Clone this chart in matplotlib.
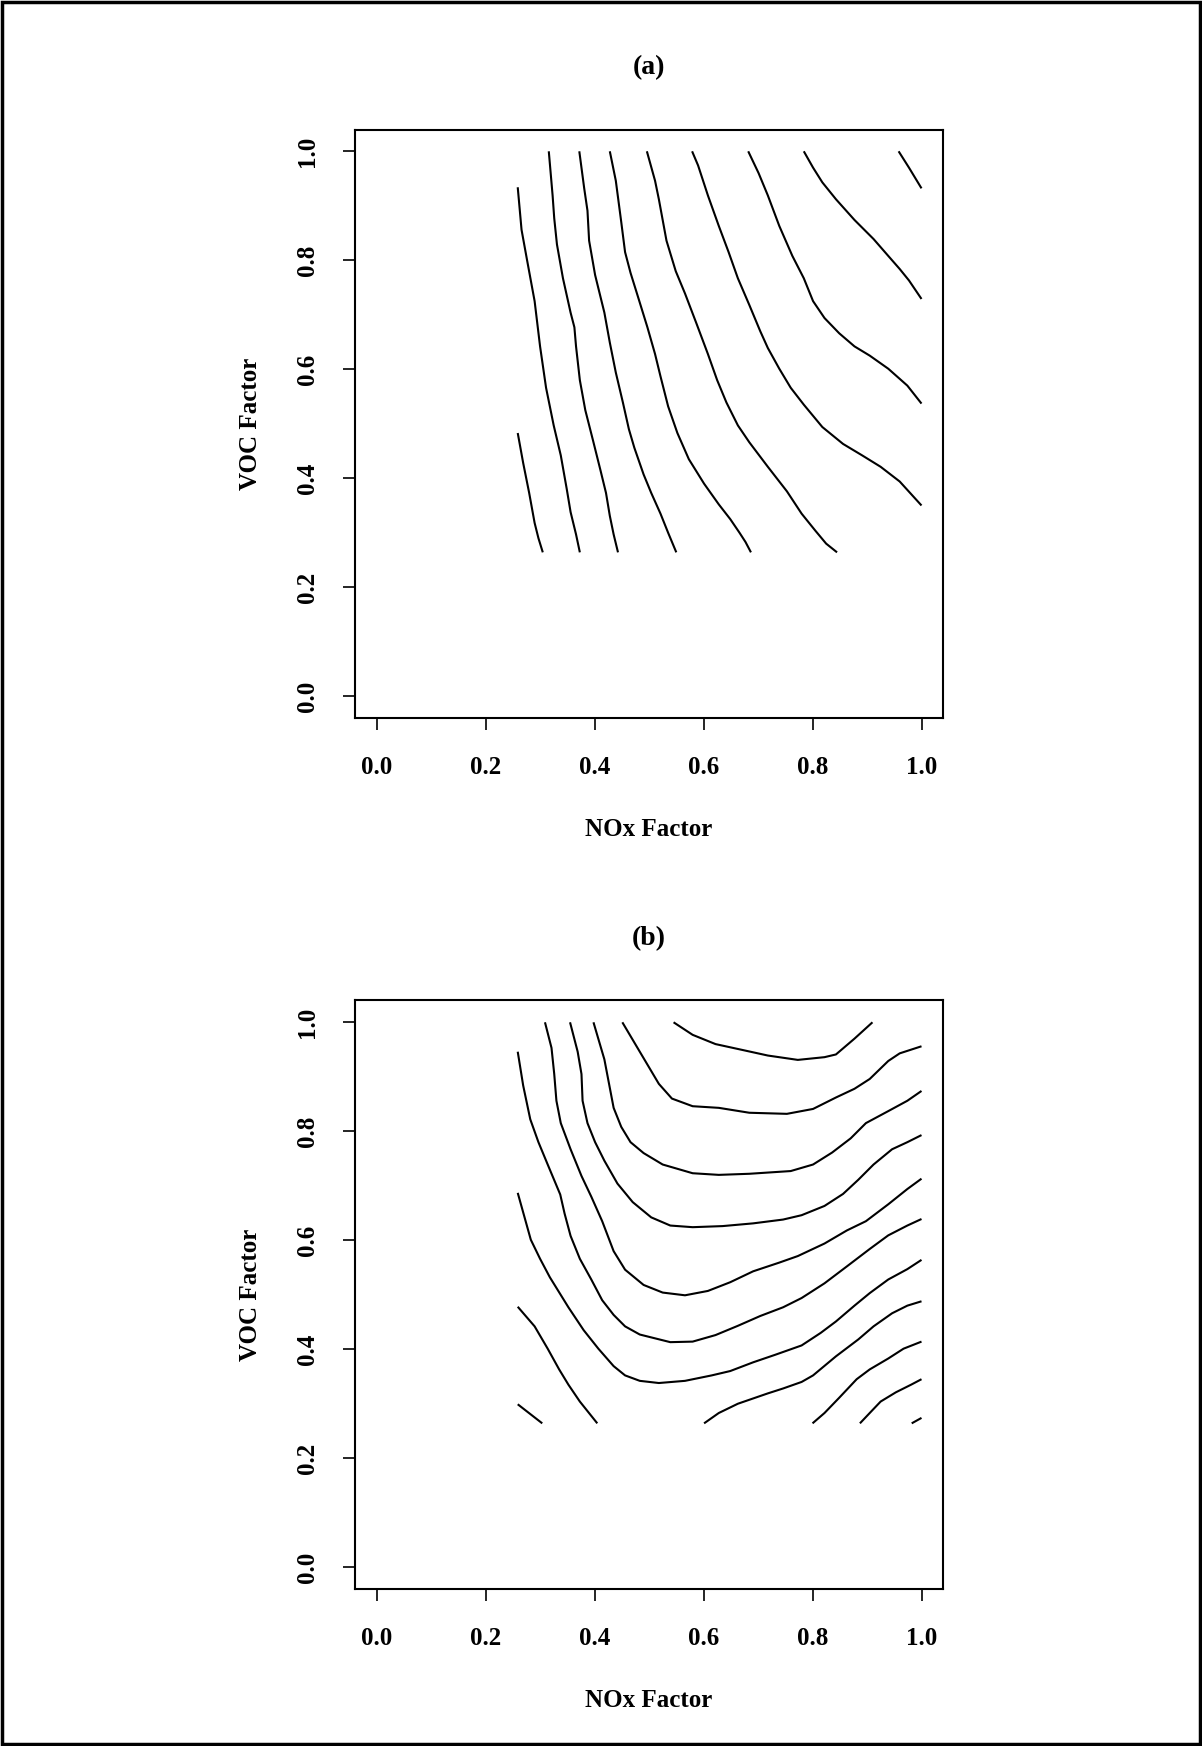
import matplotlib
matplotlib.use("Agg")
import matplotlib.pyplot as plt
from matplotlib.patches import Rectangle

# ---------------- data ----------------
tick_values = [0.0, 0.2, 0.4, 0.6, 0.8, 1.0]
tick_labels = ["0.0", "0.2", "0.4", "0.6", "0.8", "1.0"]
x_label = "NOx Factor"
y_label = "VOC Factor"
titles = ["(a)", "(b)"]

# Panel (a) contour lines
a1_x = [0.259, 0.266, 0.276, 0.290, 0.300, 0.311, 0.325, 0.338, 0.349, 0.356, 0.366, 0.373]
a1_y = [0.934, 0.856, 0.801, 0.725, 0.642, 0.566, 0.497, 0.442, 0.380, 0.338, 0.297, 0.264]
a2_x = [0.259, 0.269, 0.280, 0.290, 0.297, 0.305]
a2_y = [0.483, 0.428, 0.373, 0.318, 0.290, 0.264]
a3_x = [0.316, 0.323, 0.326, 0.331, 0.342, 0.356, 0.363, 0.366, 0.373, 0.383, 0.397, 0.411, 0.421, 0.428, 0.435, 0.443]
a3_y = [1.000, 0.919, 0.877, 0.829, 0.767, 0.704, 0.677, 0.642, 0.580, 0.525, 0.470, 0.414, 0.373, 0.331, 0.297, 0.264]
a4_x = [0.372, 0.381, 0.387, 0.390, 0.401, 0.418, 0.428, 0.439, 0.452, 0.463, 0.473, 0.490, 0.504, 0.521, 0.535, 0.550]
a4_y = [1.000, 0.932, 0.891, 0.836, 0.773, 0.704, 0.649, 0.594, 0.539, 0.490, 0.456, 0.407, 0.373, 0.335, 0.300, 0.264]
a5_x = [0.428, 0.439, 0.449, 0.456, 0.466, 0.480, 0.497, 0.511, 0.521, 0.535, 0.552, 0.573, 0.601, 0.628, 0.649, 0.666, 0.677, 0.687]
a5_y = [1.000, 0.946, 0.870, 0.815, 0.777, 0.732, 0.677, 0.628, 0.587, 0.532, 0.483, 0.435, 0.390, 0.352, 0.325, 0.300, 0.283, 0.264]
a6_x = [0.496, 0.511, 0.518, 0.532, 0.549, 0.566, 0.587, 0.608, 0.625, 0.642, 0.663, 0.684, 0.718, 0.753, 0.780, 0.805, 0.825, 0.845]
a6_y = [1.000, 0.946, 0.912, 0.836, 0.780, 0.739, 0.684, 0.628, 0.580, 0.539, 0.497, 0.466, 0.421, 0.376, 0.335, 0.304, 0.280, 0.264]
a7_x = [0.579, 0.590, 0.608, 0.628, 0.646, 0.663, 0.684, 0.704, 0.718, 0.739, 0.760, 0.784, 0.818, 0.856, 0.891, 0.925, 0.960, 1.000]
a7_y = [1.000, 0.974, 0.919, 0.863, 0.815, 0.767, 0.718, 0.670, 0.639, 0.601, 0.566, 0.535, 0.494, 0.463, 0.442, 0.421, 0.394, 0.350]
a8_x = [0.682, 0.701, 0.718, 0.739, 0.763, 0.784, 0.801, 0.822, 0.849, 0.877, 0.905, 0.939, 0.974, 1.000]
a8_y = [1.000, 0.960, 0.919, 0.863, 0.808, 0.767, 0.725, 0.694, 0.666, 0.642, 0.625, 0.601, 0.570, 0.537]
a9_x = [0.784, 0.801, 0.818, 0.843, 0.877, 0.912, 0.939, 0.960, 0.977, 1.000]
a9_y = [1.000, 0.970, 0.943, 0.912, 0.874, 0.839, 0.808, 0.784, 0.763, 0.729]
a10_x = [0.958, 0.977, 1.000]
a10_y = [1.000, 0.970, 0.932]

# Panel (b) contour lines
b1_x = [0.545, 0.580, 0.622, 0.677, 0.718, 0.773, 0.822, 0.843, 0.877, 0.910]
b1_y = [1.000, 0.977, 0.960, 0.948, 0.939, 0.931, 0.936, 0.941, 0.970, 1.000]
b2_x = [0.451, 0.483, 0.518, 0.542, 0.580, 0.628, 0.684, 0.753, 0.801, 0.843, 0.877, 0.905, 0.939, 0.960, 1.000]
b2_y = [1.000, 0.946, 0.887, 0.860, 0.846, 0.843, 0.834, 0.832, 0.841, 0.862, 0.878, 0.896, 0.929, 0.943, 0.956]
b3_x = [0.398, 0.418, 0.435, 0.449, 0.466, 0.490, 0.525, 0.580, 0.628, 0.684, 0.760, 0.801, 0.836, 0.870, 0.898, 0.939, 0.974, 1.000]
b3_y = [1.000, 0.932, 0.843, 0.808, 0.780, 0.760, 0.739, 0.723, 0.720, 0.722, 0.727, 0.739, 0.761, 0.787, 0.815, 0.837, 0.856, 0.874]
b4_x = [0.355, 0.369, 0.376, 0.378, 0.387, 0.401, 0.418, 0.442, 0.470, 0.504, 0.539, 0.580, 0.635, 0.691, 0.746, 0.780, 0.822, 0.856, 0.884, 0.912, 0.946, 0.974, 1.000]
b4_y = [1.000, 0.946, 0.905, 0.856, 0.815, 0.780, 0.746, 0.704, 0.670, 0.642, 0.627, 0.624, 0.626, 0.631, 0.638, 0.646, 0.663, 0.685, 0.711, 0.739, 0.767, 0.780, 0.793]
b5_x = [0.309, 0.321, 0.326, 0.330, 0.338, 0.356, 0.376, 0.394, 0.414, 0.435, 0.456, 0.490, 0.525, 0.566, 0.608, 0.649, 0.691, 0.739, 0.773, 0.822, 0.863, 0.898, 0.939, 0.974, 1.000]
b5_y = [1.000, 0.953, 0.905, 0.856, 0.815, 0.767, 0.718, 0.680, 0.635, 0.580, 0.546, 0.518, 0.504, 0.499, 0.507, 0.523, 0.543, 0.559, 0.571, 0.594, 0.618, 0.635, 0.666, 0.694, 0.713]
b6_x = [0.259, 0.269, 0.282, 0.297, 0.314, 0.337, 0.345, 0.356, 0.373, 0.394, 0.414, 0.435, 0.456, 0.483, 0.539, 0.580, 0.622, 0.663, 0.704, 0.746, 0.780, 0.822, 0.863, 0.905, 0.939, 0.974, 1.000]
b6_y = [0.946, 0.884, 0.822, 0.780, 0.739, 0.684, 0.649, 0.608, 0.566, 0.528, 0.490, 0.463, 0.442, 0.427, 0.413, 0.414, 0.426, 0.443, 0.461, 0.477, 0.494, 0.521, 0.552, 0.584, 0.609, 0.627, 0.639]
b7_x = [0.259, 0.283, 0.300, 0.318, 0.352, 0.380, 0.407, 0.435, 0.456, 0.483, 0.518, 0.566, 0.615, 0.649, 0.691, 0.732, 0.780, 0.815, 0.843, 0.877, 0.905, 0.939, 0.974, 1.000]
b7_y = [0.687, 0.601, 0.566, 0.532, 0.477, 0.435, 0.401, 0.369, 0.352, 0.342, 0.338, 0.342, 0.352, 0.360, 0.376, 0.390, 0.407, 0.430, 0.451, 0.480, 0.503, 0.528, 0.547, 0.564]
b8_x = [0.259, 0.290, 0.314, 0.335, 0.352, 0.373, 0.405]
b8_y = [0.478, 0.442, 0.401, 0.363, 0.335, 0.304, 0.264]
b9_x = [0.601, 0.628, 0.663, 0.718, 0.746, 0.780, 0.801, 0.843, 0.884, 0.912, 0.946, 0.974, 1.000]
b9_y = [0.264, 0.283, 0.300, 0.319, 0.328, 0.340, 0.352, 0.387, 0.418, 0.442, 0.466, 0.480, 0.488]
b10_x = [0.800, 0.822, 0.849, 0.881, 0.905, 0.939, 0.967, 1.000]
b10_y = [0.264, 0.283, 0.311, 0.345, 0.363, 0.383, 0.401, 0.414]
b11_x = [0.887, 0.905, 0.925, 0.953, 0.981, 1.000]
b11_y = [0.264, 0.283, 0.304, 0.321, 0.335, 0.345]
b12_x = [0.982, 1.000]
b12_y = [0.264, 0.274]
b13_x = [0.259, 0.304]
b13_y = [0.299, 0.264]

panel_a = [(a1_x, a1_y), (a2_x, a2_y), (a3_x, a3_y), (a4_x, a4_y), (a5_x, a5_y),
           (a6_x, a6_y), (a7_x, a7_y), (a8_x, a8_y), (a9_x, a9_y), (a10_x, a10_y)]
panel_b = [(b1_x, b1_y), (b2_x, b2_y), (b3_x, b3_y), (b4_x, b4_y), (b5_x, b5_y),
           (b6_x, b6_y), (b7_x, b7_y), (b8_x, b8_y), (b9_x, b9_y), (b10_x, b10_y),
           (b11_x, b11_y), (b12_x, b12_y), (b13_x, b13_y)]

# ---------------- styling / layout ----------------
plt.rcParams['font.family'] = ['Liberation Serif', 'DejaVu Serif']
plt.rcParams['font.weight'] = 'bold'

W, H, DPI = 1202, 1746, 100
fig = plt.figure(figsize=(W / DPI, H / DPI), dpi=DPI)
fig.patch.set_facecolor('white')

ax_left = 354.8 / W
ax_w = (943.3 - 354.8) / W
ax_h = (718.0 - 129.5) / H
bottoms = [1 - 718.0 / H, 1 - 1589.0 / H]

for i, (lines, title, bottom) in enumerate(zip([panel_a, panel_b], titles, bottoms)):
    ax = fig.add_axes([ax_left, bottom, ax_w, ax_h])
    for xs, ys in lines:
        ax.plot(xs, ys, color='black', linewidth=1.5, solid_capstyle='butt',
                solid_joinstyle='round')
    ax.set_xlim(-0.04, 1.04)
    ax.set_ylim(-0.04, 1.04)
    ax.set_xticks(tick_values)
    ax.set_xticklabels(tick_labels, fontsize=18, fontweight='bold')
    ax.set_yticks(tick_values)
    ax.set_yticklabels(tick_labels, fontsize=18, fontweight='bold',
                       rotation=90, va='center')
    ax.tick_params(axis='both', direction='out', length=8.5, width=1.2,
                   color='black')
    ax.tick_params(axis='x', pad=19)
    ax.tick_params(axis='y', pad=17)
    for sp in ax.spines.values():
        sp.set_linewidth(1.5)
    ax.set_xlabel(x_label, fontsize=18, fontweight='bold', labelpad=28)
    ax.set_ylabel(y_label, fontsize=18, fontweight='bold', labelpad=25)
    ax.set_title(title, fontsize=20, fontweight='bold', pad=40)

# figure border
fig.patches.append(Rectangle((0.0015, 0.001), 0.997, 0.998, transform=fig.transFigure,
                             fill=False, edgecolor='black', linewidth=2.5))

fig.savefig('out.png', dpi=DPI, facecolor='white')
